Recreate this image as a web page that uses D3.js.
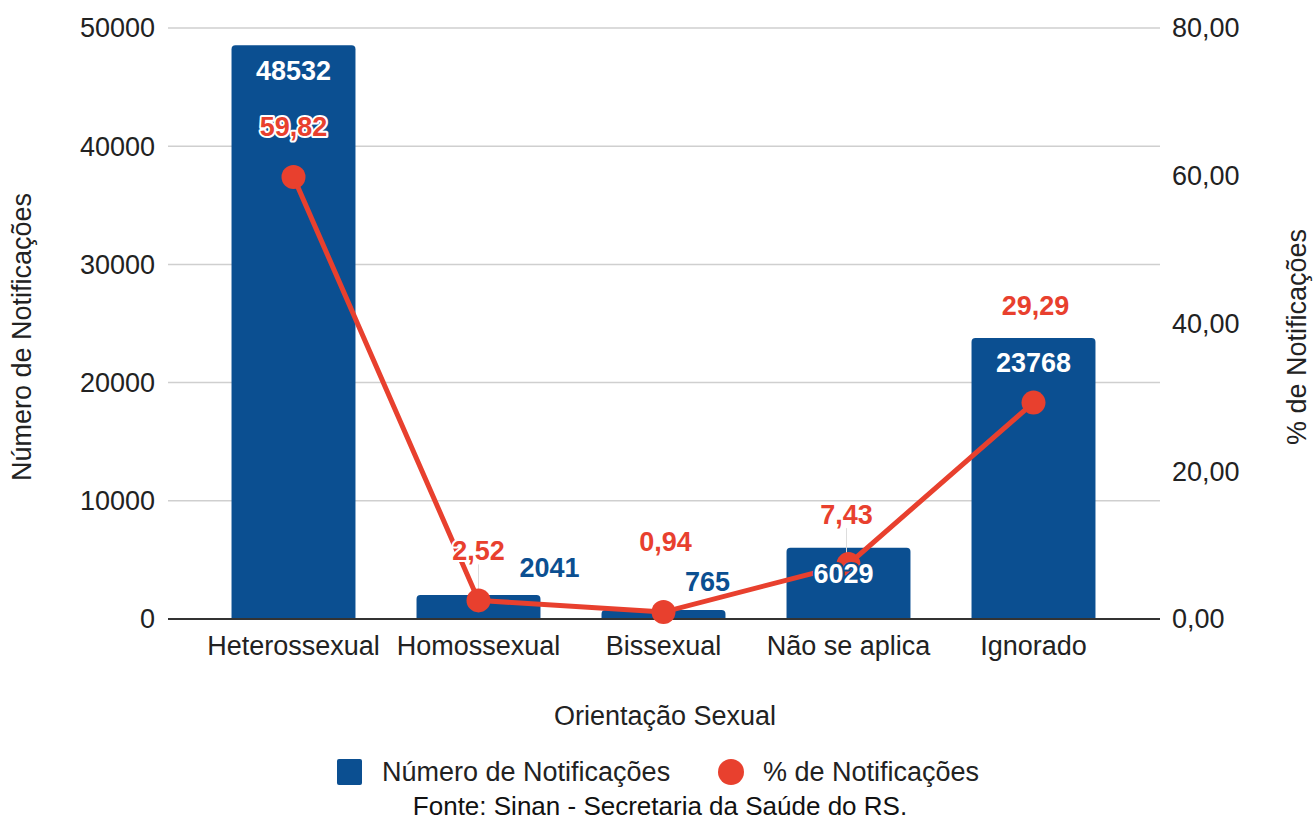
<!DOCTYPE html>
<html>
<head>
<meta charset="utf-8">
<script src="https://cdn.jsdelivr.net/npm/d3@7"></script>
<style>
  body { margin: 0; background: #fff; }
  text { font-family: "Liberation Sans", Arial, sans-serif; }
</style>
</head>
<body>
<div id="chart"></div>
<script>
const categories = ["Heterossexual", "Homossexual", "Bissexual", "Não se aplica", "Ignorado"]
const counts = [48532, 2041, 765, 6029, 23768]
const percents = [59.82, 2.52, 0.94, 7.43, 29.29]
const leftTicks = [0, 10000, 20000, 30000, 40000, 50000]
const rightTicks = [0, 20, 40, 60, 80]

// label placement (dx, dy from anchor, inside = white text in bar)
const countLabelPos = [
  { dx: 0, dy: 25, inside: true },
  { dx: 71, dy: -27, inside: false },
  { dx: 44, dy: -28, inside: false },
  { dx: -5, dy: 26, inside: true },
  { dx: 0, dy: 24, inside: true }
]
const pctLabelPos = [
  { dx: 0, dy: -51 },
  { dx: 0, dy: -50 },
  { dx: 2, dy: -71 },
  { dx: -2, dy: -50 },
  { dx: 2, dy: -97 }
]

const width = 1314
const height = 824
const blue = "#0b4f91"
const red = "#e8402e"
const fs = 27

const svg = d3.select("#chart").append("svg")
    .attr("width", width)
    .attr("height", height)

const x = d3.scaleBand()
    .domain(categories)
    .range([201, 1126])
    .paddingInner(0.33)
    .paddingOuter(0.165)

const yL = d3.scaleLinear().domain([0, 50000]).range([619, 28])
const yR = d3.scaleLinear().domain([0, 80]).range([619, 28])

// gridlines
svg.append("g")
    .selectAll("line")
    .data(leftTicks.filter(d => d > 0))
    .enter()
    .append("line")
    .attr("x1", 168).attr("x2", 1160)
    .attr("y1", d => yL(d)).attr("y2", d => yL(d))
    .attr("stroke", "#cfcfcf")
    .attr("stroke-width", 1.5)

// left ticks
svg.append("g")
    .selectAll("text")
    .data(leftTicks)
    .enter()
    .append("text")
    .attr("x", 155)
    .attr("y", d => yL(d))
    .attr("dy", "0.35em")
    .attr("text-anchor", "end")
    .attr("font-size", fs)
    .attr("fill", "#222")
    .text(d => d)

// right ticks
svg.append("g")
    .selectAll("text")
    .data(rightTicks)
    .enter()
    .append("text")
    .attr("x", 1172)
    .attr("y", d => yR(d))
    .attr("dy", "0.35em")
    .attr("font-size", fs)
    .attr("fill", "#222")
    .text(d => d3.format(".2f")(d).replace(".", ","))

// bars with rounded top corners
const r = 4
svg.append("g")
    .selectAll("path")
    .data(categories)
    .enter()
    .append("path")
    .attr("fill", blue)
    .attr("d", (c, i) => {
        const x0 = x(c), w = x.bandwidth(), y0 = yL(counts[i]), y1 = yL(0)
        return `M${x0},${y1}V${y0 + r}Q${x0},${y0} ${x0 + r},${y0}H${x0 + w - r}Q${x0 + w},${y0} ${x0 + w},${y0 + r}V${y1}Z`
    })

// baseline
svg.append("line")
    .attr("x1", 168).attr("x2", 1160)
    .attr("y1", yL(0)).attr("y2", yL(0))
    .attr("stroke", "#333")
    .attr("stroke-width", 2)

const cx = c => x(c) + x.bandwidth() / 2

// faint connector lines for displaced labels
svg.append("g")
    .selectAll("line")
    .data([1, 3])
    .enter()
    .append("line")
    .attr("x1", i => cx(categories[i]) + pctLabelPos[i].dx)
    .attr("x2", i => cx(categories[i]) + pctLabelPos[i].dx)
    .attr("y1", i => yR(percents[i]) + pctLabelPos[i].dy + 14)
    .attr("y2", i => yR(percents[i]) - 8)
    .attr("stroke", "#ddd")
    .attr("stroke-width", 1)

// line
svg.append("path")
    .datum(categories)
    .attr("fill", "none")
    .attr("stroke", red)
    .attr("stroke-width", 5)
    .attr("d", d3.line().x(c => cx(c)).y((c, i) => yR(percents[i])))

svg.append("g")
    .selectAll("circle")
    .data(categories)
    .enter()
    .append("circle")
    .attr("cx", c => cx(c))
    .attr("cy", (c, i) => yR(percents[i]))
    .attr("r", 12)
    .attr("fill", red)

// count labels (drawn over the line, with a halo)
svg.append("g")
    .selectAll("text")
    .data(categories)
    .enter()
    .append("text")
    .attr("x", (c, i) => cx(c) + countLabelPos[i].dx)
    .attr("y", (c, i) => yL(counts[i]) + countLabelPos[i].dy)
    .attr("dy", "0.35em")
    .attr("text-anchor", "middle")
    .attr("font-family", "Roboto, sans-serif")
    .attr("font-weight", "bold")
    .attr("font-size", 27)
    .attr("fill", (c, i) => countLabelPos[i].inside ? "#fff" : blue)
    .attr("stroke", (c, i) => countLabelPos[i].inside ? blue : "#fff")
    .attr("stroke-width", 4)
    .attr("stroke-linejoin", "round")
    .attr("paint-order", "stroke")
    .text((c, i) => counts[i])

// percent labels
svg.append("g")
    .selectAll("text")
    .data(categories)
    .enter()
    .append("text")
    .attr("x", (c, i) => cx(c) + pctLabelPos[i].dx)
    .attr("y", (c, i) => yR(percents[i]) + pctLabelPos[i].dy)
    .attr("dy", "0.35em")
    .attr("text-anchor", "middle")
    .attr("font-family", "Roboto, sans-serif")
    .attr("font-weight", "bold")
    .attr("font-size", 27)
    .attr("fill", red)
    .attr("stroke", "#fff")
    .attr("stroke-width", 4)
    .attr("stroke-linejoin", "round")
    .attr("paint-order", "stroke")
    .text((c, i) => d3.format(".2f")(percents[i]).replace(".", ","))

// x labels
svg.append("g")
    .selectAll("text")
    .data(categories)
    .enter()
    .append("text")
    .attr("x", c => cx(c))
    .attr("y", 646)
    .attr("dy", "0.35em")
    .attr("text-anchor", "middle")
    .attr("font-size", fs)
    .attr("fill", "#222")
    .text(c => c)

// axis titles
svg.append("text")
    .attr("transform", "translate(22,337) rotate(-90)")
    .attr("text-anchor", "middle")
    .attr("dy", "0.35em")
    .attr("font-size", fs)
    .attr("fill", "#222")
    .text("Número de Notificações")

svg.append("text")
    .attr("transform", "translate(1297,337) rotate(-90)")
    .attr("text-anchor", "middle")
    .attr("dy", "0.35em")
    .attr("font-size", fs)
    .attr("fill", "#222")
    .text("% de Notificações")

svg.append("text")
    .attr("x", 665).attr("y", 716)
    .attr("dy", "0.35em")
    .attr("text-anchor", "middle")
    .attr("font-size", fs)
    .attr("fill", "#222")
    .text("Orientação Sexual")

// legend
const lg = svg.append("g")
lg.append("rect")
    .attr("x", 337).attr("y", 759)
    .attr("width", 25).attr("height", 26)
    .attr("rx", 2)
    .attr("fill", blue)
lg.append("text")
    .attr("x", 382).attr("y", 772)
    .attr("dy", "0.35em")
    .attr("font-size", fs)
    .attr("fill", "#222")
    .text("Número de Notificações")
lg.append("circle")
    .attr("cx", 731).attr("cy", 772)
    .attr("r", 13)
    .attr("fill", red)
lg.append("text")
    .attr("x", 763).attr("y", 772)
    .attr("dy", "0.35em")
    .attr("font-size", fs)
    .attr("fill", "#222")
    .text("% de Notificações")

svg.append("text")
    .attr("x", 660).attr("y", 806)
    .attr("dy", "0.35em")
    .attr("text-anchor", "middle")
    .attr("font-family", "'Open Sans', sans-serif")
    .attr("font-size", 26)
    .attr("fill", "#111")
    .text("Fonte: Sinan - Secretaria da Saúde do RS.")
</script>
</body>
</html>
